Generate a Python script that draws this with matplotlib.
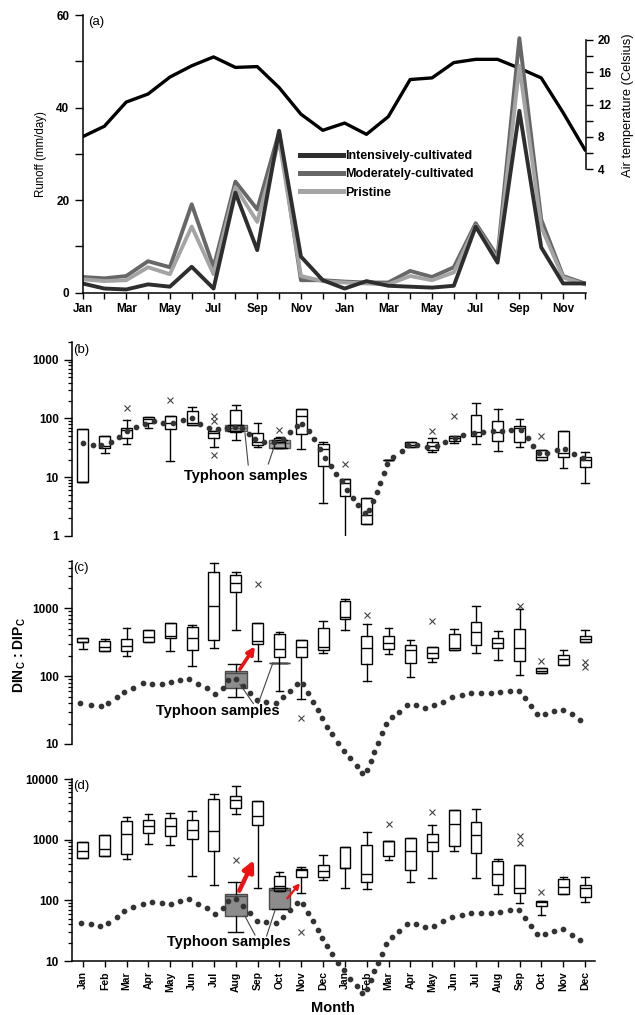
import numpy as np
import matplotlib.pyplot as plt
from matplotlib.lines import Line2D
from matplotlib.ticker import FixedLocator, FuncFormatter, LogLocator, NullFormatter

plt.rcParams['font.family'] = ['Liberation Sans', 'DejaVu Sans']
plt.rcParams['font.weight'] = 'bold'
plt.rcParams['mathtext.fontset'] = 'custom'
plt.rcParams['mathtext.rm'] = 'Liberation Sans'
plt.rcParams['mathtext.bf'] = 'Liberation Sans:bold'

# ---- data -------------------------------------------------------------
months = ['Jan', 'Feb', 'Mar', 'Apr', 'May', 'Jun',
          'Jul', 'Aug', 'Sep', 'Oct', 'Nov', 'Dec'] * 2
idx = np.arange(24)

# (a) runoff (mm/day) and air temperature (Celsius), two years
runoff_int = [2.0, 0.9, 0.7, 1.8, 1.3, 5.6, 0.9, 21.6, 9.2, 35.0, 7.8, 2.7,
              0.9, 2.5, 1.5, 1.3, 1.1, 1.5, 14.3, 6.5, 39.3, 9.8, 2.0, 2.0]
runoff_mod = [3.4, 3.1, 3.6, 6.8, 5.5, 19.1, 5.5, 24.0, 18.0, 34.7, 2.7, 2.7,
              2.4, 2.2, 2.2, 4.7, 3.4, 5.5, 15.0, 7.8, 55.0, 15.8, 3.6, 2.0]
runoff_pri = [2.9, 2.5, 2.7, 5.5, 4.0, 14.3, 4.0, 22.8, 15.3, 33.0, 3.6, 2.5,
              2.2, 2.0, 1.8, 3.6, 2.7, 4.4, 14.5, 7.1, 49.0, 14.2, 3.3, 1.8]
temp = [8.0, 9.3, 12.3, 13.3, 15.4, 16.8, 17.9, 16.6, 16.7, 14.1, 10.8, 8.8,
        9.7, 8.3, 10.5, 15.1, 15.3, 17.2, 17.6, 17.6, 16.5, 15.3, 11.0, 6.4]

# (b) DINc:DIPc box statistics
b_lo = [8.4, 26, 37, 69, 19, 77, 33, 43, 33, 32, 30, 3.7,
        0.83, 1.58, 20, 33, 27, 38, 36.5, 28, 33, 20, 14.2, 7.9]
b_q1 = [8.4, 31, 46, 83, 67, 77, 47, 58, 36, 32, 54, 15.6,
        4.8, 1.58, 20, 33, 29, 41, 51, 41, 39, 20, 22.5, 14.8]
b_med = [8.4, 34, 64, 97, 85, 83, 56, 78, 39, 40, 108, 30,
         8.1, 2.3, 20, 36, 34, 46, 58, 58, 68, 22.5, 25.6, 20]
b_q3 = [66, 51, 68, 105, 111, 132, 62, 141, 56, 46, 144, 36.5,
        9.4, 4.4, 20, 40, 39, 51, 115, 89, 75, 29, 62, 22.5]
b_hi = [66, 51, 95, 105, 111, 155, 62, 171, 83, 49, 144, 40,
        9.4, 4.4, 20, 40, 47, 51, 182, 144, 99, 29, 62, 27]
b_fliers = {2: [150], 4: [203], 6: [111, 91, 24], 9: [64], 12: [16.9],
            16: [62], 17: [110], 21: [51]}
b_typh_pos = [7, 9]
b_typh = {'lo': [62, 32], 'q1': [62, 32], 'med': [70, 38], 'q3': [78, 43], 'hi': [78, 43]}
b_curve_x = [0.0, 0.45, 0.85, 1.3, 1.66, 2.0, 2.43, 2.85, 3.25, 3.68, 4.14, 4.57,
             4.98, 5.36, 5.79, 6.2, 6.58, 6.96, 7.3, 7.6, 7.9, 8.3, 8.75, 9.15,
             9.5, 9.8, 10.05, 10.35, 10.6, 10.85, 11.1, 11.35, 11.6, 11.85, 12.1,
             12.35, 12.6, 12.9, 13.1, 13.3, 13.45, 13.6, 13.79, 13.94, 14.2, 14.6,
             14.9, 15.3, 15.75, 16.2, 16.6, 17.04, 17.4, 17.9, 18.3, 18.77, 19.2,
             19.6, 20.05, 20.37, 20.6, 20.9, 21.26, 21.7, 22.08, 22.5, 22.9]
b_curve_y = [38, 36, 36, 39, 49, 62, 71, 80, 89, 83, 83, 93,
             100, 80, 68, 66, 68, 72, 68, 55, 44, 40, 40, 45,
             58, 75, 82, 62, 45, 30, 21, 15.6, 11.5, 8.5, 6,
             4.4, 3.4, 2.5, 2.8, 4, 5.7, 8.1, 11.7, 17, 22.5, 28,
             35, 35, 33, 34, 40, 46, 52, 56, 59, 60, 60,
             63, 63, 47, 34, 26, 26, 29, 30, 25, 21]

# (c) box statistics
c_lo = [251, 235, 200, 323, 235, 143, 263, 480, 169, 60, 46, 222,
        479, 85, 212, 96, 164, 243, 217, 173, 104, 110, 146, 316]
c_q1 = [315, 235, 235, 323, 370, 243, 341, 1720, 295, 190, 194, 243,
        697, 151, 251, 155, 183, 243, 289, 257, 169, 110, 146, 316]
c_med = [315, 272, 279, 382, 395, 370, 1083, 2340, 330, 249, 266, 272,
         736, 257, 312, 243, 222, 257, 453, 305, 257, 119, 177, 349]
c_q3 = [370, 330, 349, 479, 601, 525, 3470, 3100, 601, 419, 341, 507,
        1283, 395, 391, 289, 272, 414, 636, 361, 490, 130, 205, 395]
c_hi = [370, 350, 507, 479, 601, 568, 4600, 3470, 601, 453, 341, 658,
        1360, 588, 519, 341, 272, 490, 1083, 469, 967, 130, 243, 479]
c_fliers = {8: [2290], 10: [24], 13: [798], 16: [650], 20: [1083],
            21: [169], 23: [164, 135]}
c_typh_pos = [7, 9]
c_typh = {'lo': [50, 158], 'q1': [68, 158], 'med': [112, 158], 'q3': [119, 158], 'hi': [151, 158]}
c_curve_x = [-0.14, 0.35, 0.81, 1.16, 1.54, 1.88, 2.3, 2.73, 3.16, 3.6, 4.03, 4.44,
             4.87, 5.28, 5.67, 6.05, 6.4, 6.66, 7.01, 7.31, 7.65, 7.96, 8.38, 8.84,
             9.18, 9.48, 9.79, 10.09, 10.32, 10.55, 10.78, 10.96, 11.19, 11.42, 11.7,
             11.96, 12.23, 12.54, 12.8, 13.02, 13.18, 13.33, 13.5, 13.68, 13.87, 14.14,
             14.49, 14.83, 15.24, 15.67, 16.09, 16.5, 16.92, 17.35, 17.77, 18.22, 18.68,
             19.1, 19.56, 19.97, 20.25, 20.5, 20.78, 21.16, 21.59, 22.0, 22.39, 22.77]
c_curve_y = [40, 38, 36, 40, 50, 59, 68, 80, 77, 77, 83, 88,
             90, 77, 66, 55, 66, 88, 90, 72, 56, 44, 42, 40,
             49, 61, 77, 77, 57, 42, 32, 24, 18, 13.9, 10.5,
             7.9, 6.2, 4.7, 3.7, 4.1, 5.7, 7.7, 10.5, 14.4, 19.5, 24.7,
             30, 38, 38, 34, 37, 42, 49, 53, 56, 57, 57,
             59, 61, 61, 47, 36, 28, 28, 31, 32, 28, 22.6]

# (d) box statistics
d_lo = [497, 543, 484, 858, 806, 256, 180, 2660, 158, 143, 131, 217,
        162, 152, 467, 204, 232, 641, 232, 126, 89, 57, 126, 93]
d_q1 = [497, 543, 586, 1290, 1165, 1039, 641, 3350, 1730, 143, 240, 247,
        339, 204, 543, 311, 658, 776, 601, 180, 134, 82, 126, 115]
d_med = [641, 700, 1258, 1662, 1662, 1429, 1410, 4490, 2500, 173, 318, 300,
         345, 273, 938, 641, 903, 1820, 1180, 273, 158, 95, 169, 162]
d_q3 = [915, 1211, 2014, 2145, 2290, 2145, 4600, 5220, 4310, 256, 327, 385,
        747, 806, 962, 1066, 1258, 3060, 1964, 437, 385, 99, 226, 180]
d_hi = [915, 1211, 2345, 2660, 2730, 2950, 5570, 7650, 4310, 288, 352, 550,
        747, 1341, 962, 1066, 1773, 3060, 3220, 478, 385, 99, 240, 240]
d_fliers = {7: [467], 10: [30], 14: [1842], 16: [2880], 20: [1136, 880], 21: [139]}
d_typh_pos = [7, 9]
d_typh = {'lo': [30, 71], 'q1': [55, 71], 'med': [118, 150], 'q3': [127, 158], 'hi': [204, 158]}
d_curve_x = [-0.1, 0.35, 0.78] + c_curve_x[3:]
d_curve_y = [42, 40, 38, 42, 54, 67, 77, 87, 95, 89, 87, 99,
             104, 86, 74, 59, 76, 99, 104, 80, 61, 46, 44, 42,
             54, 69, 89, 87, 62, 46, 33, 24, 17.5, 12.9, 9.3,
             7.0, 5.1, 3.8, 3.0, 3.5, 4.8, 6.8, 9.3, 13.2, 18.9, 25,
             31, 40, 40, 36, 38, 45, 54, 57, 61, 62, 62,
             65, 69, 69, 52, 38, 28, 28, 31, 33.5, 27, 22]

# ---- figure -----------------------------------------------------------
W, H = 635, 1015
fig = plt.figure(figsize=(W / 100, H / 100), dpi=100)


def px_axes(x0, y0, x1, y1):
    return fig.add_axes([x0 / W, 1 - y1 / H, (x1 - x0) / W, (y1 - y0) / H])


TICK_FS = 8.5

# panel (a)
ax_a = px_axes(82.5, 15, 586, 292.7)
c_int, c_mod, c_pri = '#2e2e2e', '#676767', '#a4a4a4'
ax_a.plot(idx, runoff_mod, color=c_mod, lw=2.8)
ax_a.plot(idx, runoff_pri, color=c_pri, lw=2.8)
ax_a.plot(idx, runoff_int, color=c_int, lw=2.8)
ax_a.set_xlim(0, 23.05)
ax_a.set_ylim(0, 60)
ax_a.set_yticks([0, 20, 40, 60])
ax_a.yaxis.set_minor_locator(FixedLocator([10, 30, 50]))
ax_a.set_xticks(idx)
ax_a.set_xticklabels([m if i % 2 == 0 else '' for i, m in enumerate(months)])
for s in ['top', 'right']:
    ax_a.spines[s].set_visible(False)
for s in ['left', 'bottom']:
    ax_a.spines[s].set_linewidth(1.1)
ax_a.tick_params(axis='y', which='major', direction='out', length=6, width=1, labelsize=TICK_FS)
ax_a.tick_params(axis='y', which='minor', direction='out', length=6, width=1)
ax_a.tick_params(axis='x', direction='out', length=4.5, width=1, labelsize=TICK_FS, pad=3)
ax_a.set_ylabel('Runoff (mm/day)', fontsize=8.3)
ax_a.yaxis.set_label_coords(-0.07, 0.5)
ax_a.text(0.012, 0.975, '(a)', transform=ax_a.transAxes, fontsize=9.5,
          fontweight='normal', ha='left', va='center')

legend_handles = [Line2D([], [], color=c_int, lw=3.6),
                  Line2D([], [], color=c_mod, lw=3.6),
                  Line2D([], [], color=c_pri, lw=3.6)]
ax_a.legend(legend_handles,
            ['Intensively-cultivated', 'Moderately-cultivated', 'Pristine'],
            loc='upper left', bbox_to_anchor=(300 / W, 1 - 150 / H),
            bbox_transform=fig.transFigure, frameon=False, fontsize=9,
            handlelength=3.4, handletextpad=0.25, labelspacing=0.5,
            borderpad=0, borderaxespad=0)

tw = ax_a.twinx()
tw.plot(idx, temp, color='black', lw=2.4)
tw.set_ylim(-11.34, 23.1)
tw.set_zorder(ax_a.get_zorder() - 1)
ax_a.patch.set_visible(False)
for s in ['left', 'top', 'bottom']:
    tw.spines[s].set_visible(False)
tw.spines['right'].set_bounds(4, 20)
tw.spines['right'].set_linewidth(1.1)
tw.set_yticks([4, 8, 12, 16, 20])
tw.yaxis.set_minor_locator(FixedLocator([6, 10, 14, 18]))
tw.tick_params(axis='y', which='major', direction='out', length=5, width=1, labelsize=TICK_FS)
tw.tick_params(axis='y', which='minor', direction='out', length=5, width=1)
tw.set_ylabel('Air temperature (Celsius)', fontsize=9.3, fontweight='normal')
tw.yaxis.set_label_coords(1.072, 0.676)


# panels (b)-(d)
def make_stats(lo, q1, med, q3, hi, fliers=None):
    out = []
    for i in range(len(lo)):
        fl = [] if fliers is None else fliers.get(i, [])
        out.append(dict(whislo=lo[i], q1=q1[i], med=med[i], q3=q3[i],
                        whishi=hi[i], fliers=np.array(fl, dtype=float)))
    return out


def draw_boxes(ax, stats, pos, width, face, edge, z):
    ax.bxp(stats, positions=pos, widths=width, capwidths=width * 0.7,
           patch_artist=True, manage_ticks=False, zorder=z,
           boxprops=dict(facecolor=face, edgecolor=edge, linewidth=1.0),
           medianprops=dict(color=edge, linewidth=1.0),
           whiskerprops=dict(color='black', linewidth=1.0),
           capprops=dict(color='black', linewidth=1.0),
           flierprops=dict(marker='x', markersize=4, markeredgecolor='#444444',
                           markeredgewidth=0.8, linestyle='none'))


def style_log(ax, ylim, majors, label, bottom_axis=False):
    ax.set_yscale('log')
    ax.set_ylim(*ylim)
    ax.set_xlim(-0.5, 23.45)
    ax.set_yticks(majors)
    ax.yaxis.set_major_formatter(FuncFormatter(lambda v, p: f'{v:g}'))
    ax.yaxis.set_minor_locator(LogLocator(base=10, subs=np.arange(2, 10)))
    ax.yaxis.set_minor_formatter(NullFormatter())
    ax.spines['top'].set_visible(False)
    ax.spines['right'].set_visible(False)
    ax.spines['left'].set_linewidth(1.1)
    ax.tick_params(axis='y', which='major', direction='out', length=6, width=1, labelsize=TICK_FS)
    ax.tick_params(axis='y', which='minor', direction='out', length=3, width=0.9)
    if bottom_axis:
        ax.spines['bottom'].set_linewidth(1.1)
        ax.set_xticks(idx)
        ax.set_xticklabels(months, rotation=90, fontsize=7.5)
        ax.tick_params(axis='x', direction='out', length=4.5, width=1, pad=3)
    else:
        ax.spines['bottom'].set_visible(False)
        ax.tick_params(axis='x', which='both', bottom=False, labelbottom=False)
    ax.text(0.003, 0.96, label, transform=ax.transAxes, fontsize=9.5,
            fontweight='normal', ha='left', va='center')


def typhoon_note(ax, xy_text, lines):
    ax.text(*xy_text, 'Typhoon samples', fontsize=10.5, ha='center', va='center', zorder=6)
    for (x0, y0), (x1, y1) in lines:
        ax.plot([x0, x1], [y0, y1], color='#444444', lw=0.8, zorder=6)


def red_arrow(ax, start, end, lw, scale):
    ax.annotate('', xy=end, xytext=start, annotation_clip=False, zorder=7,
                arrowprops=dict(arrowstyle='-|>', color='#ee1111', lw=lw,
                                mutation_scale=scale, shrinkA=0, shrinkB=0))


dot_style = dict(linestyle='none', marker='o', markersize=3.1,
                 color='#333333', clip_on=False, zorder=5)

ax_b = px_axes(72, 342, 595, 536)
style_log(ax_b, (1, 2000), [1, 10, 100, 1000], '(b)')
draw_boxes(ax_b, make_stats(b_typh['lo'], b_typh['q1'], b_typh['med'], b_typh['q3'], b_typh['hi']),
           b_typh_pos, 1.0, '#a9a9a9', '#5a5a5a', 2)
draw_boxes(ax_b, make_stats(b_lo, b_q1, b_med, b_q3, b_hi, b_fliers), idx, 0.5, 'none', 'black', 3)
ax_b.plot(b_curve_x, b_curve_y, **dot_style)
typhoon_note(ax_b, (7.46, 10.6), [((7.57, 16.1), (7.42, 56.5)), ((8.49, 16.8), (8.75, 32.6))])

ax_c = px_axes(72, 561, 595, 744)
style_log(ax_c, (10, 5000), [10, 100, 1000], '(c)')
draw_boxes(ax_c, make_stats(c_typh['lo'], c_typh['q1'], c_typh['med'], c_typh['q3'], c_typh['hi']),
           c_typh_pos, 1.0, '#8c8c8c', '#4a4a4a', 2)
draw_boxes(ax_c, make_stats(c_lo, c_q1, c_med, c_q3, c_hi, c_fliers), idx, 0.5, 'none', 'black', 3)
ax_c.plot(c_curve_x, c_curve_y, **dot_style)
typhoon_note(ax_c, (6.16, 31), [((7.8, 39.6), (7.19, 76)), ((8.03, 39.6), (8.69, 154))])
red_arrow(ax_c, (7.19, 127), (7.88, 276), 2.6, 11)
fig.text(20 / W, 1 - 655 / H, r'DIN$_{\mathbf{C}}$ : DIP$_{\mathbf{C}}$',
         rotation=90, fontsize=10, ha='center', va='center')

ax_d = px_axes(72, 779, 595, 961)
style_log(ax_d, (10, 10000), [10, 100, 1000, 10000], '(d)', bottom_axis=True)
draw_boxes(ax_d, make_stats(d_typh['lo'], d_typh['q1'], d_typh['med'], d_typh['q3'], d_typh['hi']),
           d_typh_pos, 1.0, '#8c8c8c', '#4a4a4a', 2)
draw_boxes(ax_d, make_stats(d_lo, d_q1, d_med, d_q3, d_hi, d_fliers), idx, 0.5, 'none', 'black', 3)
ax_d.plot(d_curve_x, d_curve_y, **dot_style)
typhoon_note(ax_d, (6.69, 20.3), [((7.88, 26.8), (7.42, 55)), ((8.41, 25.8), (8.8, 69))])
red_arrow(ax_d, (7.16, 144), (7.83, 461), 3.2, 16)
red_arrow(ax_d, (9.36, 108), (9.94, 191), 1.6, 8)

fig.text(333 / W, 1 - 1008 / H, 'Month', fontsize=10.5, ha='center', va='center')

fig.savefig('out.png', dpi=100)
